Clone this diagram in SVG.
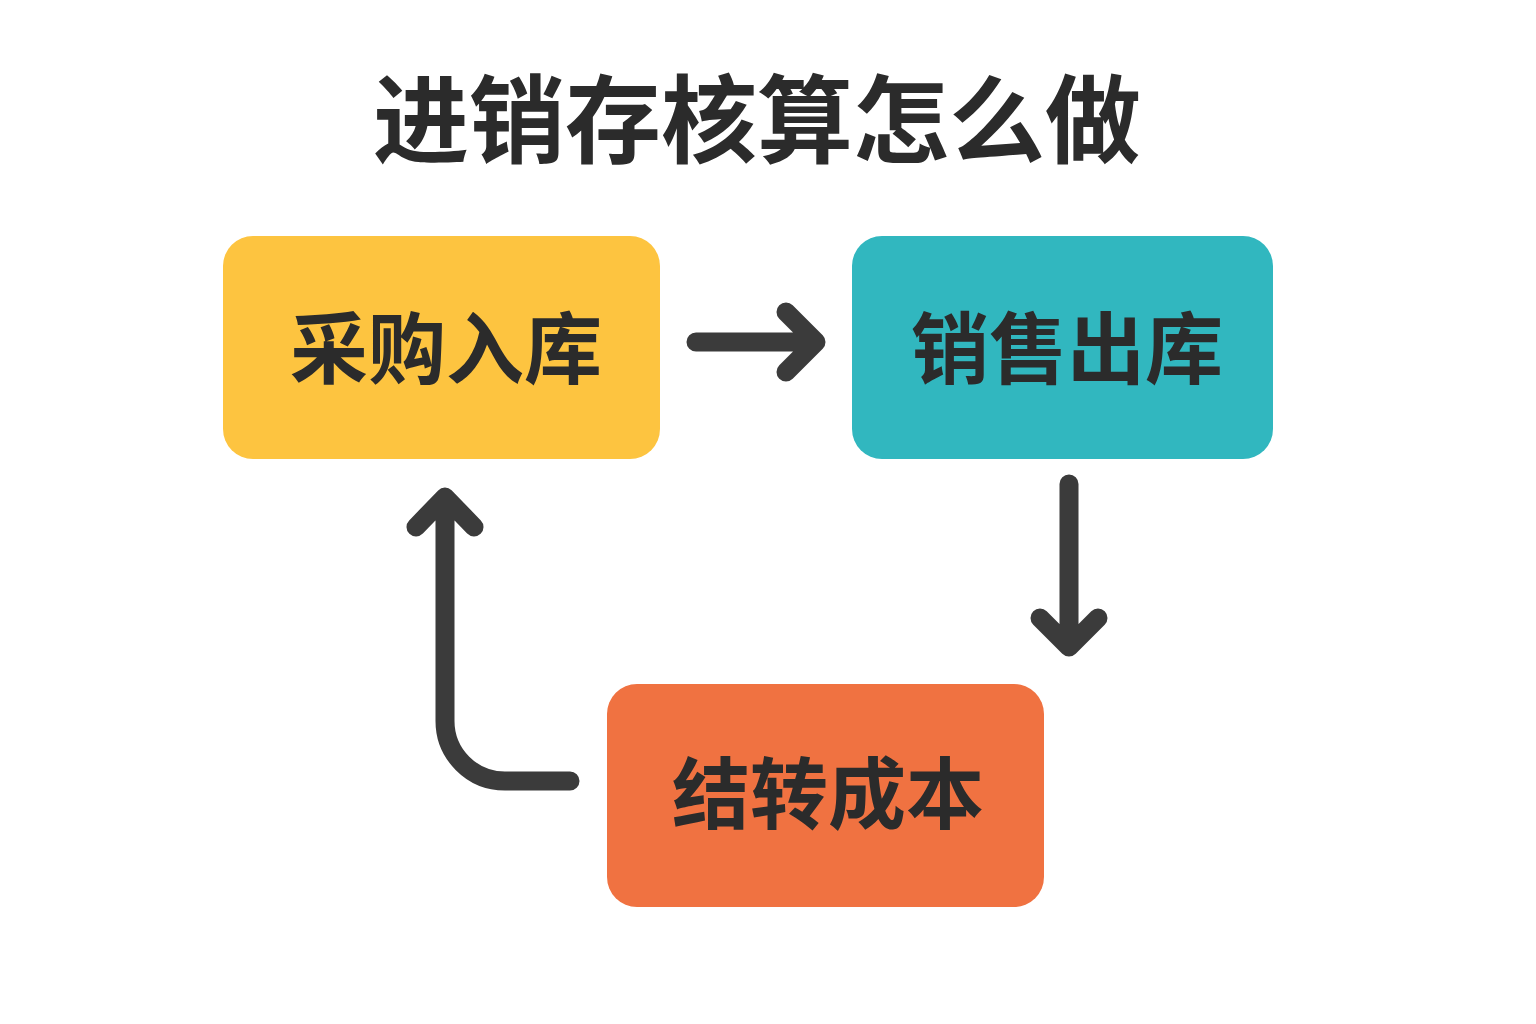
<svg xmlns="http://www.w3.org/2000/svg" width="1536" height="1024" viewBox="0 0 1536 1024">
<style>
.t{font-family:"Noto Sans CJK SC","Noto Sans",sans-serif;font-weight:700;fill:#2b2b2b;text-anchor:middle;dominant-baseline:central}
.title{font-size:96px}
.lbl{font-size:78px}
.c{fill:none;stroke:#3b3b3b;stroke-width:19;stroke-linecap:round;stroke-linejoin:round}
</style>
<rect width="1536" height="1024" fill="#ffffff"/>
<text class="t title" x="757" y="113">进销存核算怎么做</text>
<g id="purchase">
<rect x="223" y="236" width="437" height="223" rx="30" fill="#FDC440"/>
<text class="t lbl" x="446" y="344">采购入库</text>
</g>
<g id="sales">
<rect x="852" y="236" width="421" height="223" rx="30" fill="#31B7BF"/>
<text class="t lbl" x="1067" y="344">销售出库</text>
</g>
<g id="cost">
<rect x="607" y="684" width="437" height="223" rx="30" fill="#F07241"/>
<text class="t lbl" x="828" y="789">结转成本</text>
</g>
<g id="connectors">
<path class="c" d="M696 342 H816 M786 312 L816 342 L786 372"/>
<path class="c" d="M1069 484 V646 M1040 618 L1069 647 L1098 618"/>
<path class="c" d="M570 781 H505 A60 60 0 0 1 445 721 V500 M416 527 L445 497 L474 527"/>
</g>
</svg>
